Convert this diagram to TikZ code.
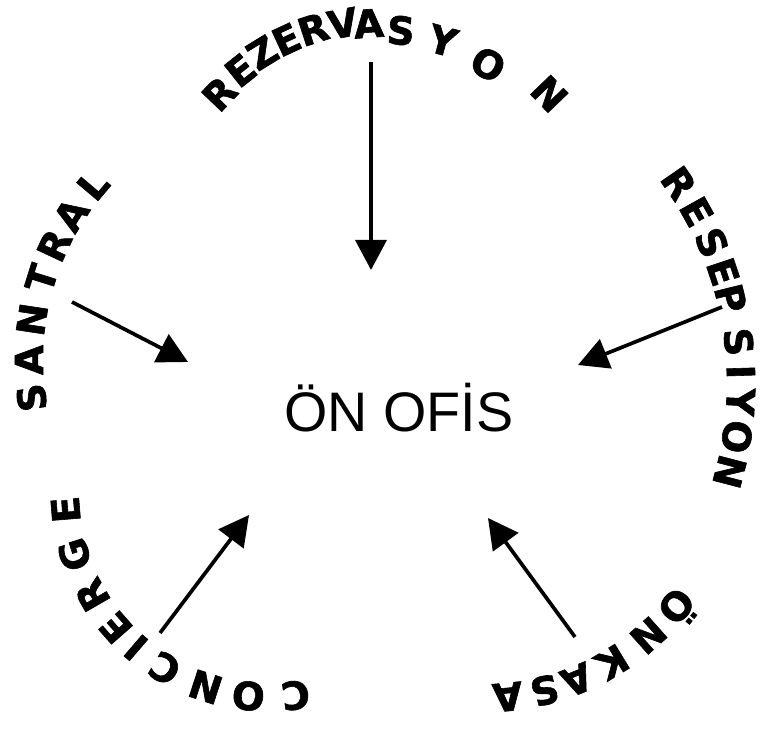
\documentclass[tikz,border=0pt]{standalone}
\usepackage{fontspec}
\setmainfont{Liberation Sans}
\newfontfamily\arcfont[BoldFeatures={FakeBold=1.5}]{DejaVu Sans}
\usetikzlibrary{arrows.meta}
\tikzset{
  px/.style={x=0.02cm, y=0.02cm},
  letter/.style={font=\arcfont\fontsize{22}{22}\selectfont\bfseries, inner sep=0pt, anchor=base},
  title/.style={font=\fontsize{31.7}{32}\selectfont, inner sep=0pt, anchor=base},
  flow/.style={black, line width=2.1pt, -{Triangle[length=0.6cm, width=0.62cm]}},
}
\begin{document}
\begin{tikzpicture}[px]
  \useasboundingbox (0,0) rectangle (775,729);

  % --- centres of the five lettering arcs ---
  \coordinate (rezc) at (385,477);  % REZERVASYON, r given per letter
  \coordinate (resc) at (389,346);  % RESEPSIYON, r = 338
  \coordinate (onkc) at (484,278);  % ONKASA, r = 233
  \coordinate (conc) at (269,236);  % CONCIERGE, r = 190
  \coordinate (sanc) at (300,369);  % SANTRAL, r = 257

  % --- middle label ---
  \node[title] (onofis) at (399,297) {ÖN OFİS};

  % --- lettering, read clockwise, tops facing out ---
  \foreach \ch/\a/\r [count=\i] in {R/136.3/215,E/128.5/218,Z/121.6/220,E/114.9/220,
      R/107.9/220,V/100.5/218.5,A/94.1/215,S/85.9/208,Y/74.7/205,O/61.2/200,N/43.9/214}
    \node[letter, rotate=\a-90] (rez-\i) at ([shift={(\a:\r)}]rezc) {\ch};
  \foreach \ch/\a [count=\i] in {R/34.6,E/29.1,S/23.5,E/18.4,P/13.9,S/6.7,
      I/1.8,Y/-3.1,O/-8.8,N/-14.6}
    \node[letter, rotate=\a-90] (res-\i) at ([shift={(\a:338)}]resc) {\ch};
  \foreach \ch/\a [count=\i] in {Ö/-38.9,N/-48.3,K/-58.7,A/-67.9,S/-75.8,A/-84.5}
    \node[letter, rotate=\a-90] (onk-\i) at ([shift={(\a:233)}]onkc) {\ch};
  \foreach \ch/\a [count=\i] in {C/277.5,O/264.2,N/251.9,C/239.3,I/229.3,
      E/221.3,R/210,G/197.6,E/184.7}
    \node[letter, rotate=\a-90] (con-\i) at ([shift={(\a:190)}]conc) {\ch};
  \foreach \ch/\a [count=\i] in {S/188,A/180,N/171.4,T/162.5,R/155,A/147.6,L/139.8}
    \node[letter, rotate=\a-90] (san-\i) at ([shift={(\a:257)}]sanc) {\ch};

  % --- arrow ends ---
  \coordinate (rez-tail) at (371,667);  \coordinate (rez-tip) at (371,459);
  \coordinate (res-tail) at (722,422);  \coordinate (res-tip) at (578,364);
  \coordinate (onk-tail) at (575,92);   \coordinate (onk-tip) at (488,211);
  \coordinate (con-tail) at (160,96);   \coordinate (con-tip) at (249,214);
  \coordinate (san-tail) at (72,427);   \coordinate (san-tip) at (188,367);

  % --- arrows into the front office ---
  \draw[flow] (rez-tail) -- (rez-tip);
  \draw[flow] (res-tail) -- (res-tip);
  \draw[flow] (onk-tail) -- (onk-tip);
  \draw[flow] (con-tail) -- (con-tip);
  \draw[flow] (san-tail) -- (san-tip);
\end{tikzpicture}
\end{document}
